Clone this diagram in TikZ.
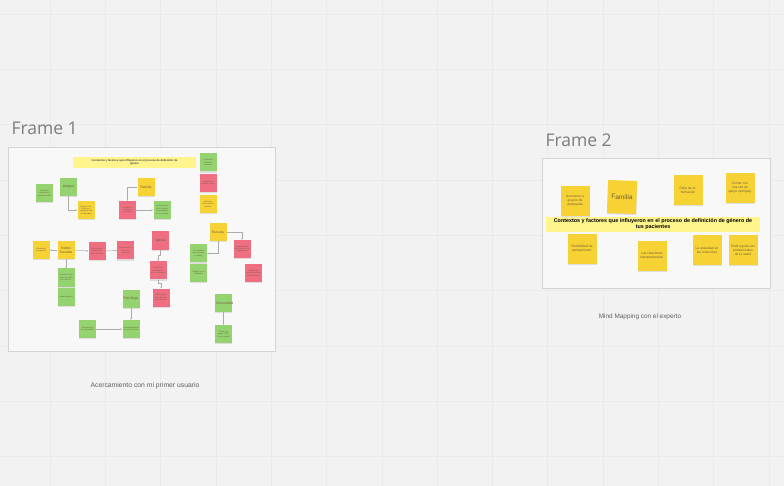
\documentclass[tikz,border=0pt]{standalone}
\usepackage{fontspec}
\setmainfont{Liberation Sans}
\newfontfamily\framefont{Open Sans}
\usetikzlibrary{arrows.meta, shadows}
\definecolor{boardbg}{RGB}{242,242,242}
\definecolor{gridgray}{RGB}{234,234,234}
\definecolor{framegray}{RGB}{212,212,212}
\definecolor{labelgray}{RGB}{125,125,125}
\definecolor{captiongray}{RGB}{95,95,95}
\definecolor{notegreen}{RGB}{148,211,112}
\definecolor{notered}{RGB}{239,110,130}
\definecolor{noteyellow}{RGB}{246,210,52}
\definecolor{titleyellow}{RGB}{255,245,140}
\definecolor{notetext}{RGB}{110,96,62}

\begin{document}
\begin{tikzpicture}[x=1pt, y=-1pt, >={Stealth[length=1.8pt, width=1.6pt]},
  note/.style={minimum width=17pt, minimum height=18pt, inner sep=0.5pt, align=center,
    text width=15pt, text=notetext, font=\fontsize{2}{2.4}\selectfont,
    drop shadow={shadow xshift=0.4pt, shadow yshift=-1.2pt, opacity=.22}},
  gnote/.style={note, fill=notegreen},
  rnote/.style={note, fill=notered},
  ynote/.style={note, fill=noteyellow},
  keynote/.style={font=\fontsize{3.4}{3.9}\selectfont},
  bignote/.style={note, fill=noteyellow, minimum width=29pt, minimum height=30pt,
    text width=26pt, font=\fontsize{3.3}{4}\selectfont},
  frame/.style={draw=framegray, fill=boardbg!50!white, line width=0.6pt},
  framelabel/.style={anchor=base west, text=labelgray, font=\framefont\fontsize{17.5}{20}\selectfont},
  caption/.style={text=captiongray, font=\fontsize{6.8}{8}\selectfont},
  conn/.style={draw=gray!65, line width=0.45pt, ->}]

%% board
\useasboundingbox (0,0) rectangle (784,486);
\fill[boardbg] (0,0) rectangle (784,486);
\foreach \i in {0,...,13}
  \draw[gridgray, line width=0.6pt] (50+55.3*\i,0) -- (50+55.3*\i,486);
\foreach \j in {0,...,8}
  \draw[gridgray, line width=0.6pt] (0,14.1+55.3*\j) -- (784,14.1+55.3*\j);

%% Frame 1
\node[framelabel] (f1label) at (8,135) {Frame 1};
\draw[frame] (8,147) rectangle (275,351);
\node[fill=titleyellow, minimum width=123pt, minimum height=11pt, inner sep=0pt, align=center,
      font=\fontsize{2.7}{3.1}\selectfont\bfseries, text=black!75] (title1) at (134.5,162.5)
  {Contextos y factores que influyeron en el proceso de definición de\\ género};

\node[gnote] (ctxesc) at (44.5,193) {Contextos escolares y entorno social};
\node[gnote, keynote] (amigos) at (68.5,187) {Amigos};
\node[ynote] (apoyo) at (86,210) {Apoyo en el proceso y aceptación de su identidad};
\node[ynote, keynote] (familia) at (146,187) {Familia};
\node[rnote] (rechazo) at (127.5,210) {Contextos familiares y rechazo};
\node[gnote] (acomp) at (162,210) {Una persona de su familia la acompañó en el proceso};

\node[gnote] (ctxsoc) at (208,162.5) {Contextos y factores sociales};
\node[rnote] (ctxmacro) at (208,183) {Contextos y factores macro};
\node[ynote] (ctxcerca) at (208,204) {Factores del contexto cercano};

\node[ynote, keynote] (escuela) at (218,232) {Escuela};
\node[rnote] (acoso) at (242,249) {Acoso escolar por parte de sus compañeros};
\node[rnote] (cambio) at (253.5,273) {Cambio de escuela durante la secundaria};
\node[gnote] (maestro) at (198.5,253.5) {Un maestro de la escuela lo apoyó};
\node[gnote] (contactos) at (198.5,273) {Amigos y sus contactos};

\node[rnote, keynote, minimum height=19pt] (iglesia) at (160.5,240.5) {Iglesia};
\node[rnote] (discurso) at (158,270.5) {Discursos de la iglesia sobre el género};
\node[rnote] (culpa) at (161,297.5) {Sentimiento de culpa por sus creencias};

\node[ynote] (internet) at (41,250) {Contenido en internet};
\node[ynote, keynote] (redes) at (66,250) {Redes\\ Sociales};
\node[rnote] (negativos) at (97,251) {Comentarios negativos en redes sociales};
\node[rnote] (compara) at (125.5,250.5) {Comparación con otras personas};
\node[gnote] (conocio) at (66,277.5) {Conoció a más personas trans por internet};
\node[gnote] (autoacep) at (66,296.5) {Autoaceptación};

\node[gnote, keynote] (psicologo) at (131,299) {Psicólogo};
\node[gnote] (consulta) at (87.5,329) {Consulta con un especialista};
\node[gnote] (transicion) at (131,329) {Acompañamiento en su transición};

\node[gnote, keynote] (comunidad) at (223.5,303) {Comunidad};
\node[gnote] (grupo) at (223.5,334) {Grupo de apoyo LGBT en su ciudad};

\draw[conn] (amigos.south) |- (apoyo.west);
\draw[conn] (familia.west) -| (rechazo.north);
\draw[conn] (rechazo.east) -- (acomp.west);
\draw[conn] (escuela.east) -| (acoso.north);
\draw[conn] (escuela.south) |- (maestro.east);
\draw[conn] (iglesia.south) -- ++(0,5) -| (discurso.north);
\draw[conn] (discurso.south) -- ++(0,4) -| (culpa.north);
\draw[conn] (redes.west) -- (internet.east);
\draw[conn] (redes.east) -- (negativos.west);
\draw[conn] (negativos.east) -- (compara.west);
\draw[conn] (redes.south) -- (conocio.north);
\draw[conn] (psicologo.south) -- (transicion.north);
\draw[conn] (consulta.east) -- (transicion.west);
\draw[conn] (comunidad.south) -- (grupo.north);

\node[caption] (cap1) at (145,386) {Acercamiento con mi primer usuario};

%% Frame 2
\node[framelabel] (f2label) at (542,147) {Frame 2};
\draw[frame] (542,158) rectangle (770,288);

\node[bignote] (autoayuda) at (575,201) {Acercarse a grupos de autoayuda};
\node[bignote, rotate=-2, minimum height=33pt, font=\fontsize{6.6}{7}\selectfont] (familia2) at (622,197) {Familia};
\node[bignote] (falta) at (688,190) {Falta de información};
\node[bignote] (red) at (740,188) {Contar con una red de apoyo (amigos)};

\node[fill=titleyellow, minimum width=214pt, minimum height=15pt, inner sep=0pt, align=center,
      font=\fontsize{5.4}{6}\selectfont\bfseries, text=black] (title2) at (653,224.5)
  {Contextos y factores que influyeron en el proceso de definición de género de\\ tus pacientes};

\node[bignote] (flexi) at (582,249) {Flexibilidad de pensamiento};
\node[bignote] (relaciones) at (652,256) {Las relaciones interpersonales};
\node[bignote] (ansiedad) at (707,250) {La ansiedad en las relaciones};
\node[bignote] (ayuda) at (743,250) {Pedir ayuda con profesionales de la salud};

\node[caption, font=\fontsize{6.4}{8}\selectfont] (cap2) at (640,317) {Mind Mapping con el experto};
\end{tikzpicture}
\end{document}
